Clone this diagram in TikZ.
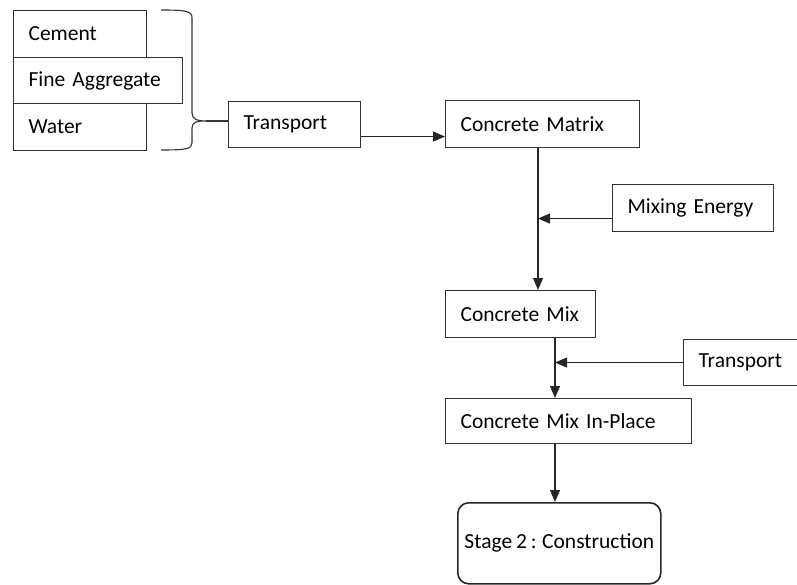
\documentclass[tikz,border=0pt]{standalone}
\usepackage{fontspec}
\setmainfont{Carlito}[WordSpace=0.8]
\usepackage{tikz}
\usetikzlibrary{arrows.meta, positioning}

\tikzset{
  blk/.style={draw=black!80, line width=1.1pt, anchor=north west, align=left,
    inner xsep=15pt, inner ysep=0pt, minimum height=47pt, text width=#1},
  arr/.style={-{Triangle[length=12pt, width=10pt]}, draw=black!85, line width=1.1pt}
}

\begin{document}
\begin{tikzpicture}[x=1pt, y=-1pt, font=\fontsize{21.5}{26}\selectfont]
  \useasboundingbox (0,0) rectangle (797,585);
  % raw materials (left)
  \node[blk=103pt] (cement) at (13,10) {Cement};
  \node[blk=139pt, minimum height=46pt] (fine) at (13,57) {Fine Aggregate};
  \node[blk=103pt] (water) at (13,103) {Water};
  % brace joining the materials
  \coordinate (tip) at (206,121);
  \draw[black!80, line width=1.1pt] (161,10) .. controls (186,10) and (192,11) .. (192,18)
      -- (192,113) .. controls (192,119) and (197,121) .. (tip)
      .. controls (197,121) and (192,122) .. (192,128)
      -- (192,143) .. controls (192,149) and (186,150) .. (161,150);
  % main chain
  \node[blk=102pt, minimum height=46pt] (trans1) at (228,101) {Transport};
  \node[blk=164pt] (matrix) at (445,100) {Concrete Matrix};
  \node[blk=131pt] (mixE) at (612,184) {Mixing Energy};
  \node[blk=120pt] (cmix) at (445,290) {Concrete Mix};
  \node[blk=90pt, minimum height=46pt] (trans2) at (683,339) {Transport};
  \node[blk=216pt, minimum height=45pt] (inplace) at (445,398) {Concrete Mix In-Place};
  \node[draw=black!85, line width=1.6pt, rounded corners=11pt, anchor=north west,
    minimum width=203pt, minimum height=81pt, inner sep=0pt] (stage2) at (457,502) {Stage 2 : Construction};
  % connectors
  \coordinate (v1) at (538,0);
  \coordinate (v2) at (555,0);
  \draw[black!80, line width=1.1pt] (tip) -- (tip -| trans1.west);
  \draw[arr] ([yshift=-12pt]trans1.east) -- ([yshift=-12pt]trans1.east -| matrix.west);
  \draw[arr] (matrix.south -| v1) -- (cmix.north -| v1);
  \draw[arr] ([yshift=-10.5pt]mixE.west) -- ([yshift=-10.5pt]mixE.west -| v1);
  \draw[arr] (cmix.south -| v2) -- (inplace.north -| v2);
  \draw[arr] (trans2.west) -- (trans2.west -| v2);
  \draw[arr] (inplace.south -| v2) -- (stage2.north -| v2);
\end{tikzpicture}
\end{document}
